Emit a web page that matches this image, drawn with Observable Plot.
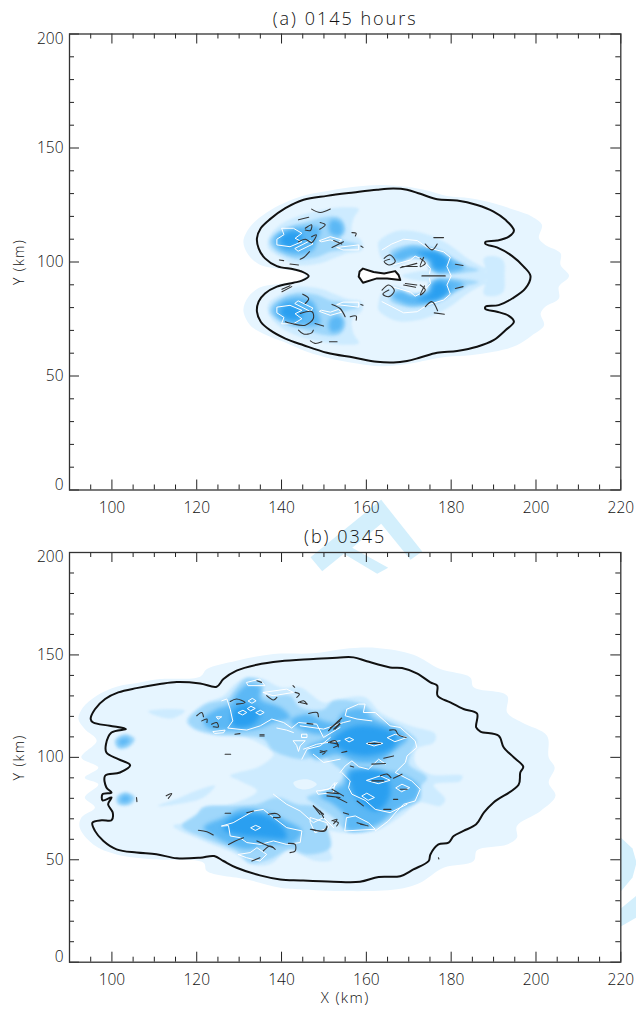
<!DOCTYPE html>
<html><head><meta charset="utf-8">
<script src="https://cdn.jsdelivr.net/npm/d3@7"></script>
<script src="https://cdn.jsdelivr.net/npm/@observablehq/plot@0.6"></script>
<style>
html,body{margin:0;padding:0;background:#fff;overflow:hidden}
#page{position:relative;width:636px;height:1010px;overflow:hidden}
#page svg{display:block;position:absolute;left:0;background:transparent}
.spaced-title{letter-spacing:2px}
.spaced-label{letter-spacing:1.4px}
</style></head><body><div id="page"></div>
<script>
// axis ticks (km)
const xMajor=[100,120,140,160,180,200,220];
const xMinor=[95,105,110,115,125,130,135,145,150,155,165,170,175,185,190,195,205,210,215];
const yMajor=[0,50,100,150,200];
const yMinor=[10,20,30,40,60,70,80,90,110,120,130,140,160,170,180,190];

// Panel (a) : shaded rain-water levels, polygons of [x km, y km]
const aLevel1=[[[136.5,121.7],[140.5,125.8],[146,129.5],[151.5,131.4],[157.8,133.1],[163.3,133.8],[170.4,132.8],[174.3,131.4],[179,129],[184.5,128],[190,125.8],[194.8,122.9],[199.1,119.9],[201.4,116.3],[200.7,110.4],[202.2,107.5],[205.8,103.8],[205.8,98.7],[207.8,93.9],[205.4,89.2],[205.4,84],[202.2,80.4],[201.1,77.4],[201.9,72.3],[199.1,67.9],[195.5,63.5],[190,60.6],[184.5,59.1],[179,58.4],[174.3,56.9],[170.4,55.5],[163.3,54.3],[157.8,55.5],[151.5,57.7],[146,60.6],[140.5,65],[136.5,67.9],[132.6,72.3],[131,78.9],[132.2,84.8],[135,88.9],[138.9,90.2],[144.4,92.1],[145.6,93.9],[144.4,95.6],[138.9,97.2],[135,98.7],[132.2,103.1],[131,108.9],[132.6,115.5]]];
const aLevel2=[
[[136.9,110.4],[139.7,116.3],[143.6,119.9],[149.1,122.6],[154.6,124],[158.2,123.2],[157,119.2],[156.6,113.3],[159,108.9],[159,105.3],[155.4,103.8],[152.3,101.6],[149.1,99.4],[143.6,98.7],[139.7,102.1],[136.9,106]],
[[136.9,77.3],[139.7,71.4],[143.6,67.8],[149.1,65.1],[154.6,63.7],[158.2,64.5],[157,68.5],[156.6,74.4],[159,78.8],[159,82.4],[155.4,83.9],[152.3,86.1],[149.1,88.3],[143.6,89],[139.7,85.6],[136.9,81.7]],
[[162.9,108.9],[167.2,113.6],[172,113.3],[176.7,110.4],[180.2,106.7],[183.8,101.6],[187.3,97.9],[188.9,96.8],[186.1,95],[181.4,96.2],[175.1,96.5],[174.3,99.7],[170.8,102.1],[166.8,98],[163.7,101.2],[162.9,105.3]],
[[162.9,78.8],[167.2,74.1],[172,74.4],[176.7,77.3],[180.2,81],[183.8,86.1],[187.3,89.8],[188.9,90.9],[186.1,92.7],[181.4,91.5],[175.1,91.2],[174.3,88],[170.8,85.6],[166.8,89.7],[163.7,86.5],[162.9,82.4]],
[[168.4,93.9],[172.7,96],[179,96.5],[186.1,96.5],[188.9,95],[188.9,92.7],[186.1,91.2],[179,91.2],[172.7,91.7]],
[[187.7,101.6],[190,102.6],[192.3,100.6],[192.6,93.9],[192.3,87],[190,85],[187.7,86],[188.5,93.9]]];
const aLevel3=[
[[137.3,109.7],[140.9,114.8],[146,117.7],[150.7,119.9],[153.8,119.2],[155,114.1],[153.8,110.4],[158.2,107.5],[154.6,105.3],[151.5,104.5],[148.3,102.1],[143.6,101.2],[139.7,103.8],[137.7,106.7]],
[[137.3,78],[140.9,72.9],[146,70],[150.7,67.8],[153.8,68.5],[155,73.6],[153.8,77.3],[158.2,80.2],[154.6,82.4],[151.5,83.2],[148.3,85.6],[143.6,86.5],[139.7,83.9],[137.7,81]],
[[165.6,104.5],[170.4,107.5],[175.1,106],[179,103.1],[183,98.7],[186.5,96.5],[179.8,95],[175.1,96.5],[174.3,100.9],[171.2,103.1],[167.2,100.1]],
[[165.6,83.2],[170.4,80.2],[175.1,81.7],[179,84.6],[183,89],[186.5,91.2],[179.8,92.7],[175.1,91.2],[174.3,86.8],[171.2,84.6],[167.2,87.6]]];
const aLevel4=[
[[138.5,111.1],[141.2,114.1],[145.2,115.5],[149.1,114.8],[148.3,108.9],[147.5,105.3],[143.6,103.1],[139.7,105.3],[138.1,108.2]],
[[151.9,118.5],[154.2,117],[154.2,111.9],[151.9,111.9],[151.1,115.5]],
[[138.5,76.6],[141.2,73.6],[145.2,72.2],[149.1,72.9],[148.3,78.8],[147.5,82.4],[143.6,84.6],[139.7,82.4],[138.1,79.5]],
[[151.9,69.2],[154.2,70.7],[154.2,75.8],[151.9,75.8],[151.1,72.2]],
[[166,102.5],[170,106.5],[175.1,105.5],[179.5,101.5],[183,97.5],[177,95.2],[175.5,97],[174.8,100.5],[171,102.2],[168,100.5]],
[[166,85.2],[170,81.2],[175.1,82.2],[179.5,86.2],[183,90.2],[177,92.5],[175.5,90.7],[174.8,87.2],[171,85.5],[168,87.2]]];
const aLevel5=[
[[139.7,110.4],[142.4,113.3],[144.8,111.9],[144,107.5],[140.9,106.4]],
[[139.7,77.3],[142.4,74.4],[144.8,75.8],[144,80.2],[140.9,81.3]],
[[172,104],[176.7,104.2],[179.5,100],[178,96.8],[175.8,97.5],[175.2,101]],
[[172,83.7],[176.7,83.5],[179.5,87.7],[178,90.9],[175.8,90.2],[175.2,86.7]]];
const aWhiteClosed=[
[[140.1,114.8],[142.8,114.8],[144.8,112.6],[143.2,110.4],[144.8,108.9],[142,106.7],[138.9,107.5],[138.9,110],[140.5,111.9]],
[[143.2,106],[146.8,109.4],[147.4,107.9],[144,104.8]],
[[149,109.4],[151.5,111.1],[154.2,109.7],[153.4,108.5],[151.5,109.7],[149.5,108.9]],
[[153.1,106.4],[158.2,107.5],[158.2,105.3],[154.6,105.3]],
[[140.1,72.9],[142.8,72.9],[144.8,75.1],[143.2,77.3],[144.8,78.8],[142,81],[138.9,80.2],[138.9,77.7],[140.5,75.8]],
[[143.2,81.7],[146.8,78.3],[147.4,79.8],[144,82.9]],
[[149,78.3],[151.5,76.6],[154.2,78],[153.4,79.2],[151.5,78],[149.5,78.8]],
[[153.1,81.3],[158.2,80.2],[158.2,82.4],[154.6,82.4]]];
const aWhiteOpen=[
[[163.7,105.3],[166,107.9],[168.8,110],[172,109.4],[174.3,106.4],[178.2,104.5],[179.8,102.1],[179,98],[180,93.9],[179,89.9],[179.8,85.9],[178.2,83.3],[174.3,81.1],[172,78.2],[168.8,77.7],[166,80.4],[163.7,82.6]],
[[166.4,98.7],[170.4,100.9],[171.5,102.6],[173.1,101.2],[175.1,97.2],[174.9,95]],
[[166.4,89],[170.4,86.8],[171.5,85],[173.1,86.5],[175.1,90.5],[174.9,92.7]]];
const aOutline=[[146.4,93.9],[144.8,95.8],[142.8,96.8],[138.9,98.2],[136.1,101.6],[134.6,106],[134.2,110.4],[135.1,114.8],[137.3,118.8],[140.9,123.6],[145.2,127.3],[150.7,129],[157,130.5],[162.5,131.7],[166.4,132.2],[169.6,131.7],[172.7,129.9],[176.7,127.5],[181.4,127],[186.1,125],[190,122.1],[192.8,118.5],[194.8,113.8],[193.6,111.1],[190.8,109.4],[188.1,108.8],[188.1,107.9],[190.8,106.4],[194.4,102.6],[197.1,98],[198.7,93.9],[197.5,88.4],[194.4,84],[191.2,81.1],[188.1,80.4],[188.1,79.3],[190.8,78.2],[193.6,76.4],[194.8,73.8],[192.8,70.1],[190,65.7],[186.1,62.8],[181.4,61],[176.7,60.2],[172.7,58.1],[169.6,56.6],[166.4,55.9],[162.5,56.2],[157,58.1],[150.7,60.2],[145.2,63.5],[140.9,66.4],[137.3,70.1],[135.1,73.8],[134.2,78.2],[134.6,82.6],[136.1,86.2],[138.9,89.2],[142.8,90.9],[144.8,91.8]];
const aHole=[[158.4,95.8],[159.2,97.1],[161.7,95.6],[164.2,95],[166.8,96],[167.6,94.3],[168,92.1],[164.9,92.8],[162.5,92.8],[159.2,90.9],[158.2,93.6]];
const aStrokes=[
[[147.1,123.2],[149.1,121.7],[151.5,123.2]],[[144,118.5],[146.4,119.6]],[[149.1,117.3],[150.3,116.3],[149,114.4]],
[[145.6,114.8],[147.1,116.3],[146.8,113.8],[145.6,114]],[[156.6,112.9],[157.6,112.6],[157.4,111.4]],
[[144,108.9],[145.6,110],[147.1,108.5],[148.2,111.9],[147.1,111.1]],[[152.3,109.4],[154.2,107.9]],[[151.9,106.4],[154.6,108.9]],
[[144.4,101.2],[145.3,102.1],[146.6,104.5]],[[139.5,100.9],[140.5,100.6]],[[142,99.1],[144,98.7]],[[158.7,107],[159.2,106.4]],
[[140.1,87],[142.4,89.2]],[[140.1,88],[142,89.6]],[[145,85.9],[146.4,84],[145.6,81.8]],[[151.9,81.4],[153.8,79.6],[155,76]],
[[156.2,76],[157.6,76.3],[157.6,74.5]],[[144.4,77.4],[147.2,78.2],[147.5,75.2],[145.6,72.3],[142.4,73],[140.9,73.8]],
[[147.9,73],[149.9,71.9]],[[144,70.1],[145.2,68.4],[147.1,68.9],[147.5,70.1]],[[146.8,65.4],[147.9,64.3],[149.5,65]],[[151.3,65],[153.1,65]],[[158.7,81.4],[159.2,81]],
[[175.9,110.7],[178.2,110.7]],[[173.9,107.9],[175.5,105.3],[176.7,107.9]],[[181,99],[182.8,98.5]],[[173.1,93.9],[178.6,93.9]],
[[164.2,101.6],[165.6,103.1],[166.8,100.2],[165.3,98.7],[164.2,100.2],[165.5,101.2]],[[168,97.5],[171.9,99.4]],[[168.4,98],[172,98]],
[[172.7,101.6],[173.9,99.4],[172.7,98],[173.5,102]],
[[163.7,87.7],[165.3,89.9],[166.6,87.4],[165.3,84.8],[163.9,85.9],[165.3,87.7]],[[168.8,89.9],[171.6,88.9]],[[169.2,90.6],[171.9,89.9]],
[[172.7,89.9],[173.9,87.7],[172.7,85.5],[173.7,89.5]],[[181,88.4],[182.8,89.2]],[[173.9,80.4],[175.5,82.6],[176.8,78.6]],[[176,77.7],[178.4,77.1]]];

// Panel (b)
const bLevel1=[[[92.1,118.7],[93.2,124.4],[96.4,130.1],[101.1,134.5],[106.6,136.6],[111.3,138.2],[120.8,139.4],[122.4,143.1],[129.4,147.2],[138.1,150.4],[147.5,150.8],[154.6,152.9],[162.5,153.4],[171.1,150.1],[177.4,143.1],[184.5,139],[185.3,134.2],[193.2,130.1],[193.2,121.9],[196.7,117],[202.6,110.5],[203,99.9],[204.4,95],[203,87.7],[204.6,81.2],[201.1,73.8],[195.5,66.5],[195.5,60.8],[193.2,57.5],[186.1,54.6],[185.3,49.4],[178.2,46.1],[172.7,38.8],[167.2,35.6],[155.4,34.7],[144.4,35.6],[139.7,36.4],[131.8,40.4],[122.4,44.5],[121.6,48.6],[109.8,50.2],[101.1,52.6],[95.6,57.5],[92.4,65.7],[92.8,70.6],[96,75.5],[93.6,80.4],[96.8,86.9],[93.6,90.1],[96.8,95],[92.8,99.9],[96.4,108.1],[93.6,113.8]]];
const bLevel2=[
[[117.5,117.8],[121.6,126],[126.3,130.1],[129,135.8],[131.8,139],[135.7,138.2],[139.7,134.2],[144.4,134.2],[149.9,126.8],[153.8,128.5],[159.7,129.3],[163.3,121.9],[170.4,115.4],[176.3,111.3],[175.9,107.2],[171.9,104],[171.5,97.5],[175.1,91.8],[182.6,91],[182.2,88.5],[175.9,86.6],[178.6,79.5],[177.4,76.3],[172.3,77.9],[168.8,72.2],[162.1,64],[154.6,63.2],[149.1,64.1],[151.9,50.2],[148.3,49.4],[144.4,52.6],[142,55.1],[137.3,47.8],[132.6,47.8],[129.4,52.6],[121.6,59.2],[114.5,66.5],[119.2,68.9],[121.6,75.5],[127.9,77.1],[134.2,83.6],[130.2,88.5],[127.9,91],[135,95.8],[138.1,101.5],[136.5,104.8],[130.2,110.5],[124.7,110.5],[119.2,113.8]],
[[108.6,122.4],[112.1,123.5],[117.2,122.7],[114.5,119.1],[111.3,119.8]],
[[110.9,76.3],[116.1,80.4],[120.8,84.4],[124.3,86.1],[121.6,80.4],[115.3,77.1]]];
const bLevel1Spot=[[[142.8,87.7],[146,89.3],[148.3,86.9],[146.4,84.5],[143.6,85.2]]];
const bLevel3=[
[[118,117.8],[122.4,126],[127.1,128.5],[129.4,134.2],[131.8,138.7],[135.7,136.6],[135.7,130.1],[142,130.1],[144.4,124.4],[149.9,123.5],[152.3,127.6],[159.3,126],[162.5,120.3],[168.8,113.8],[171.9,108.1],[170.8,103.2],[170,96.7],[174.3,90.1],[172.7,85.3],[172.7,79.5],[168,73.8],[161.7,64.9],[155.4,64.1],[152.2,70.6],[147.9,77.1],[146,80.4],[152.2,85.3],[154.6,91.8],[152.2,96.7],[149.1,101.5],[145.2,99.1],[138.1,103.2],[135.7,108.9],[130.2,110.5],[124.7,111.3],[119.2,114.6]],
[[116.5,66.5],[120,72.2],[121.6,75.5],[127.9,76.3],[134.2,77.1],[138.9,80.4],[143.6,77.1],[148.3,75.5],[150.7,65.7],[151.5,55.9],[146,52.6],[142,55.1],[137.3,50.2],[132.6,48.6],[129.4,54.3],[121.6,60.8]],
[[100.7,108.1],[103.1,111.3],[105.4,108.9],[103.9,105.1],[101.5,104.5]],
[[101.1,80.4],[103.1,82.8],[105.4,80.4],[104.3,77.1],[101.5,77.1]]];
const bLevel4=[
[[127.9,126],[129.4,130.9],[132.2,135.8],[135,134.2],[135,128.5],[139.7,124.4],[142,119.5],[138.1,117],[134.2,113.8],[127.9,113],[122.4,114.6],[121.6,118.7],[124.7,123.5]],
[[142,117.8],[146,121.1],[149.9,117.8],[153.8,115.4],[149.9,111.3],[145.2,113]],
[[154.6,121.9],[159.3,123.5],[161.7,118.7],[168,113],[169.6,108.9],[166.4,103.2],[163.3,98.3],[157.8,97.5],[153,101.5],[148.3,99.1],[146.8,101.5],[146,104.8],[150.7,109.7],[153,117]],
[[155.8,94.2],[161.3,93.4],[168,91.8],[172.3,86.1],[171.9,80.4],[167.2,74.6],[161.7,66.5],[155.4,64.9],[155,71.4],[152.2,77.1],[149.1,81.2],[154.6,86.9]],
[[121.6,65.7],[126.3,70.6],[130.2,74.6],[135.7,73.8],[141.2,69],[144.8,64.1],[142.8,58.4],[136.5,57.5],[131.8,55.1],[127.9,57.5],[124.7,60.8]],
[[101.5,108.1],[103.1,109.7],[104.4,108.4],[103.2,106.1],[101.9,105.6]],
[[101.9,80],[103.2,81.7],[104.6,80],[103.9,78.2],[102,78.2]]];
const bLevel5=[
[[128.6,122.7],[131.8,126],[135,121.9],[133.4,116.2],[128.6,115.4]],
[[156.2,114.6],[160.9,115.4],[167.2,110.5],[166.4,104.8],[160.1,100.7],[154.6,103.2],[151.9,108.1]],
[[156.2,92.6],[164.1,92.6],[165.6,82],[162.5,73.8],[157.8,79.5],[156.2,86.9]],
[[128.6,70.6],[134.9,72.2],[139.7,67.3],[141.2,60.8],[135.7,60.8],[129.4,62.4],[126.3,64.9]]];
const bWhiteClosed=[
[[131.8,136.6],[134.9,138.2],[136.1,135],[132.2,135]],[[135.7,131.7],[141.2,133.3],[142.8,131.7],[138.1,130.1]],
[[129.8,121.9],[130.9,123],[131.8,121.9],[130.9,120.8]],[[132,123.9],[132.8,124.9],[133.8,123.9],[132.8,122.8]],[[134,121.9],[135,123],[135.9,121.9],[135,120.8]],[[132.2,127.6],[133.1,128.8],[134,127.6],[133.1,126.5]],
[[124.7,119.8],[125.9,119.8],[125.1,118.7]],[[123.9,112.6],[126.7,113.3],[126.3,112],[124.3,111.7]],
[[142.8,108.1],[145.6,108.1],[144.4,105.6],[144,102.9],[143.6,105.6]],[[144.8,111.3],[146,111.3],[146,109.7],[144.8,109.7]],
[[125.9,66.5],[128.6,68.1],[133.4,73.8],[135.7,74.6],[138.1,70.6],[141.2,65.7],[144.8,64.1],[144.4,58.4],[141.2,57.5],[138.1,59.2],[135,57.5],[131.8,58.4],[130.2,60.8],[127.9,61.6],[127.5,66.5]],
[[129.8,52.6],[132.6,53.5],[134.2,55.9],[136.5,52.6],[134.9,49.4],[131.8,51]],[[132.8,65.7],[133.9,66.8],[135.1,65.7],[133.9,64.4]],
[[155,108.9],[156,109.7],[157,108.6],[156,107.6]],[[160.1,106.8],[161.9,107.7],[163.9,106.8],[161.9,105.6]],[[165,109.7],[166.8,111.3],[169.6,109.7],[166.8,107.7]],
[[160.1,88.8],[163.3,91],[165.6,88.8],[162.9,87.2]],[[167,85.2],[168.4,86.9],[170.2,85.2],[168.4,83.3]],[[159,81.2],[160.1,82.5],[161.9,80.4],[160.5,79.1]],
[[148.3,83.6],[151.1,84.4],[152.6,87.7],[152.2,82.8],[148.7,82]],[[146.8,70.6],[150.7,68.1],[151.1,65.7],[147.9,63.2],[146.8,68.1]],[[155.4,70.6],[157.4,71.4],[160.5,68.1],[162.1,64.9],[155,64.1]]];
const bWhiteOpen=[
[[125.9,127.6],[127.1,128.5],[127.9,123.5],[128.5,117.8],[127.3,114.3],[131.8,113.3],[135,115.4],[137.7,118.7],[140.5,117],[142.4,114.3],[144,117],[148.3,116.2],[149.9,109.7],[153.8,114.6]],
[[145.2,104],[148.3,106.4],[150.7,107.2],[153.8,108.1]],[[147.5,101.5],[149.9,97.5],[153.8,99.1]],[[138.9,114.3],[141.2,113.3],[142.8,112.1]],
[[138.1,82],[141.2,77.1],[144.4,73.8],[147.5,68.1],[149.9,70.6],[152.3,65.7]],[[149.1,83.6],[152.3,85.3],[153.1,87.7]],
[[155.4,123.5],[158.2,126],[159.7,126],[159.3,121.9],[162.1,121.9],[165.6,115.4],[168,114.6],[171.5,108.1],[171.9,104.8],[169.6,100.7],[169.2,97.5],[166.8,92.6],[170.7,88.5],[172.7,84.4],[171.5,78.7],[168.8,77.1],[167.2,73.8],[165.2,68.9],[162.1,64.1]],
[[144.4,115.4],[149.9,113.8],[154.6,117],[156.2,117.8]],[[155.4,123.5],[155,120.3],[157.8,118.7],[161.3,117.8]],[[151.5,109.7],[149.1,105.6],[146,104],[144.8,99.1]],
[[153.8,92.6],[155,95.8],[156.6,98.3],[158.2,95.4],[160.5,94.2],[162.9,99.1],[164.5,96.7]],
[[154.2,92.6],[156.2,88.5],[155.8,85.2],[156.6,82],[159.7,79],[162.1,74.6],[165.6,73],[169.6,77.1]]];
const bOutline=[[95,118.7],[96,123.5],[98.4,128.5],[101.5,131.7],[105.8,133.8],[111.3,135.8],[115.3,136.8],[120.8,136.1],[124.7,134.5],[126.3,138.2],[129.4,142.3],[134.2,145.2],[139.7,146.9],[147.5,148],[153.8,148.8],[157,148.8],[160.1,146.9],[165.6,143.9],[168.4,143.6],[171.9,141],[175.1,136.6],[176.7,135],[176.8,130.1],[179.8,126.8],[182.9,123.6],[186.1,121.4],[185.9,114.6],[186.9,112.6],[191.2,110.5],[192.4,104.8],[194.8,99.9],[197,95.4],[196.3,92.6],[195.9,86.6],[190,78],[187.7,73],[185.9,67.3],[182.9,64.1],[180.6,61.6],[179.4,58.4],[177,57.5],[175.1,52.6],[174.7,49.4],[171.1,45.3],[168,42],[162.9,41.6],[158.5,39.3],[152.2,39.3],[144.4,39.9],[139.7,40.4],[134.9,42.4],[129.4,46.1],[126.3,49.4],[124.1,51.8],[120.8,51],[115.3,50.7],[110.5,52.7],[105.8,53.5],[101.1,55.1],[98,59.2],[96,64.1],[95.4,68.1],[97.6,69.3],[99.9,69.3],[100.2,73],[99.1,77.1],[99.9,80.4],[97.8,79],[97.8,82],[99.9,82.8],[98.7,85.3],[98.4,91],[101.9,92.6],[104.3,96.2],[101.5,99.1],[98.7,102.4],[98.6,106.4],[99.9,112.1],[103.3,113.8],[99.5,115.4],[95.6,117]];
const bStrokes=[
[[127.9,127.3],[129.4,128.5],[131.4,126.8],[129.4,126]],[[134.2,137.4],[135.3,136.6]],[[136.5,130.1],[138.1,128],[138.9,129.3]],[[142.7,135],[143.1,134.2]],[[143.2,131.7],[144.2,130.9],[143.6,129.3]],[[144,126.8],[145.2,127.6],[146,126]],[[146.4,121.4],[148.4,121.9],[148.7,119.8]],[[120,120.3],[121.2,121.9],[121.6,119.8]],[[121.2,117.8],[122.4,118.7],[122.4,117]],[[123.5,116.2],[124.7,117],[125.1,114.9],[123.9,114.9]],[[129,111.3],[130.2,111.6]],[[134.9,111],[135.9,111]],[[134.9,110.4],[135.9,110.4]],[[126.7,101.5],[128,101.5]],[[112.8,81.2],[114.1,82.3],[113.3,80]],[[105.8,80.4],[105.9,78.4]],[[120.4,64.4],[122.4,63.7],[123.9,62.1]],[[126.7,72.7],[128,72.7]],[[131.8,73],[133.4,73.8]],[[136.9,72.2],[138.9,72.5],[139.7,70.9],[138.1,70.6]],[[127.5,57.5],[129.1,59.2],[131,60.8]],[[134.2,59.2],[136.1,57.5],[138.1,55.9]],[[135.7,54.3],[137.3,56.7],[138.5,55.1]],[[133,49.4],[134.9,51]],[[141.6,58],[143.2,57.5],[143.2,54.3],[142,53.5]],[[147.1,64.9],[149.9,64.1],[150.7,66]],[[147.5,76.3],[149.9,72.2]],[[152.3,67.6],[153.1,69.8],[151.9,69]],[[150.7,81.2],[153.8,80.4]],[[150.7,82.8],[153.5,82.3]],[[151.5,107.2],[153.4,106.1],[152.3,104.8]],[[149.1,102.4],[150.7,103.2]],[[151.5,114.3],[153.8,117.8]],[[152.6,113.8],[153.8,116.2]],
[[144.4,126.8],[146,126]],[[151.1,113],[152.6,116.2],[154.2,119.2]],[[152.3,113.8],[153.7,116.6]],[[146,116.6],[147.4,116.2]],[[151.1,107.2],[152.7,108.1],[153.4,105.1]],[[149.1,103.2],[150.3,102.4],[149.7,101.5]],[[154.2,102.4],[155.4,102.9]],[[165.5,113.3],[166.8,113.3],[167.6,111],[169.4,109.7]],[[160.5,106.8],[163.3,106.8]],[[164.1,99.6],[166.4,100.7]],[[161.3,96.7],[164.5,97]],[[166.4,89.8],[168.4,91.8]],[[163.3,91],[164.9,91.8],[165.8,90.1]],[[161.3,88.5],[164.1,88.5]],[[168,84.4],[169.6,84.4]],[[166.4,79.5],[167.4,79.5]],[[164.1,74.6],[165.8,74.6]],[[157.8,68.1],[160.5,66.5],[158.6,67.3]],[[154.6,73],[155.8,72.2]],[[149.1,73.8],[149.9,70.6]],[[147.5,76.3],[149.1,72.2]],[[151.9,84.4],[154.6,81.2]],[[153,80.4],[155.4,77.9]],[[157.8,78.7],[159.3,76.3]],[[152.3,68.9],[153.4,68.1],[153,66.5]],[[146.8,64.9],[150.3,64.1],[150.7,66.5]],[[156.2,95.8],[157,95.3]],[[177,51],[177.1,50.4]]];

// Faint background watermark, in page pixels
const watermark=[
[[310,556.7],[380.7,499.3],[421.7,551],[410,559.3],[380.7,523.3],[351.7,547.3],[387.7,567.3],[376.7,573.3],[343.3,553.3],[321.7,570.7]],
[[620.3,837],[632,848],[636,862],[632,877],[620.3,891]],
[[620.3,908],[636,895],[636,917],[620.3,926]]];

const levelColors=["#e6f5ff","#cdebff","#9fd7fb","#5cb8f5","#2a9ff0"];
const levelBlur=["blur(0.6px)","blur(1.2px)","blur(1.8px)","blur(2.2px)","blur(2.6px)"];
const FONT="'Open Sans','Liberation Sans',sans-serif";
const rows=polys=>polys.flatMap((p,i)=>p.map(([x,y])=>({x,y,i})));
const fillMark=(polys,lv)=>Plot.line(rows(polys),{x:"x",y:"y",z:"i",fill:levelColors[lv],stroke:"none",curve:"catmull-rom-closed",imageFilter:levelBlur[lv]});

function panel({top,height,mTop,mBottom,title,titleDy,xLabel,levels,whiteClosed,whiteOpen,outline,strokes,hole}){
  const pxY=(height-mTop-mBottom)/200, pxX=(620.3-69)/130;
  const majY=10/pxY,minY=5/pxY,majX=10/pxX,minX=5/pxX;
  const lab={fontFamily:FONT,fontSize:15.5,fontWeight:300,fill:"#111"};
  const marks=[
    ...levels,
    Plot.line(rows(whiteClosed),{x:"x",y:"y",z:"i",stroke:"#fff",strokeWidth:1,curve:"linear-closed"}),
    Plot.line(rows(whiteOpen),{x:"x",y:"y",z:"i",stroke:"#fff",strokeWidth:1}),
    Plot.line(outline,{x:d=>d[0],y:d=>d[1],stroke:"#111",strokeWidth:2,curve:"catmull-rom-closed"}),
    ...(hole?[Plot.line(hole,{x:d=>d[0],y:d=>d[1],fill:"#fff",stroke:"#111",strokeWidth:2,curve:"linear-closed"})]:[]),
    Plot.line(rows(strokes),{x:"x",y:"y",z:"i",stroke:"#333",strokeWidth:1.1,curve:"catmull-rom"}),
    Plot.ruleX(xMajor,{y1:0,y2:majY,stroke:"#222"}),Plot.ruleX(xMajor,{y1:200,y2:200-majY,stroke:"#222"}),
    Plot.ruleX(xMinor,{y1:0,y2:minY,stroke:"#222"}),Plot.ruleX(xMinor,{y1:200,y2:200-minY,stroke:"#222"}),
    Plot.ruleY(yMajor,{x1:90,x2:90+majX,stroke:"#222"}),Plot.ruleY(yMajor,{x1:220,x2:220-majX,stroke:"#222"}),
    Plot.ruleY(yMinor,{x1:90,x2:90+minX,stroke:"#222"}),Plot.ruleY(yMinor,{x1:220,x2:220-minX,stroke:"#222"}),
    Plot.frame({stroke:"#333",strokeWidth:1.3}),
    Plot.text(xMajor,{x:d=>d,y:0,dy:18,text:d=>String(d),...lab}),
    Plot.text(yMajor.filter(d=>d>0&&d<200),{x:90,y:d=>d,dx:-6,textAnchor:"end",text:d=>String(d),...lab}),
    Plot.text([0],{x:90,y:d=>d,dx:-6,dy:-5,textAnchor:"end",text:d=>String(d),...lab}),
    Plot.text([200],{x:90,y:d=>d,dx:-6,dy:5,textAnchor:"end",text:d=>String(d),...lab}),
    Plot.text([title],{x:[155],y:[200],dy:titleDy,text:d=>d,className:"spaced-title",fontFamily:FONT,fontSize:18,fontWeight:300,fill:"#111"}),
    Plot.text(["Y (km)"],{x:[90],y:[100],dx:-50,rotate:-90,text:d=>d,className:"spaced-label",...lab,fontSize:14}),
  ];
  if(xLabel) marks.push(Plot.text([xLabel],{x:[155],y:[0],dy:36,text:d=>d,className:"spaced-label",...lab,fontSize:15}));
  const svg=Plot.plot({width:636,height,marginLeft:69,marginRight:15.7,marginTop:mTop,marginBottom:mBottom,
    x:{domain:[90,220],axis:null},y:{domain:[0,200],axis:null},style:{background:"transparent",overflow:"visible"},marks});
  svg.style.top=top+"px";
  return svg;
}
const page=document.getElementById("page");
const wm=Plot.plot({width:636,height:1010,margin:0,x:{domain:[0,636],axis:null},y:{domain:[1010,0],axis:null},style:{background:"transparent"},
  marks:[Plot.line(rows(watermark),{x:"x",y:"y",z:"i",fill:"#d3effc",stroke:"none",curve:"linear-closed"})]});
wm.style.top="0px";
page.append(wm);
page.append(panel({top:0,height:520,mTop:33.5,mBottom:30.5,title:"(a) 0145 hours",titleDy:-15,
  levels:[fillMark(aLevel1,0),fillMark(aLevel2,1),fillMark(aLevel3,2),fillMark(aLevel4,3),fillMark(aLevel5,4)],
  whiteClosed:aWhiteClosed,whiteOpen:aWhiteOpen,outline:aOutline,strokes:aStrokes,hole:aHole}));
page.append(panel({top:520,height:490,mTop:32,mBottom:48.3,title:"(b) 0345",titleDy:-15,xLabel:"X (km)",
  levels:[fillMark(bLevel1,0),fillMark(bLevel2,1),fillMark(bLevel1Spot,0),fillMark(bLevel3,2),fillMark(bLevel4,3),fillMark(bLevel5,4)],
  whiteClosed:bWhiteClosed,whiteOpen:bWhiteOpen,outline:bOutline,strokes:bStrokes}));
</script></body></html>
